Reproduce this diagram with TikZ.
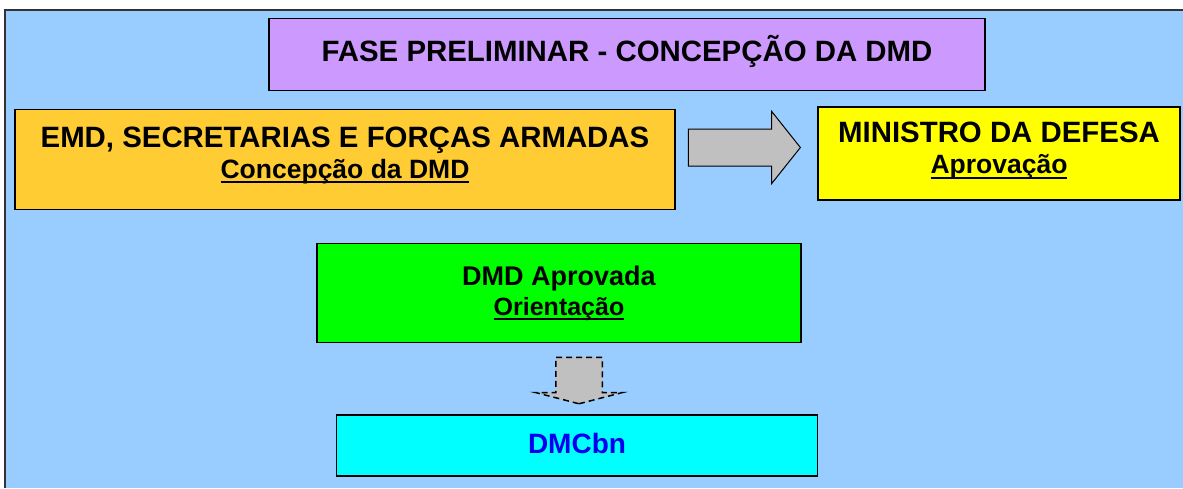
\documentclass[tikz,border=0pt]{standalone}
\usepackage{fontspec}
\setmainfont{Liberation Sans}
\usetikzlibrary{shapes.arrows}
\definecolor{fundo}{HTML}{99CCFF}
\definecolor{lilas}{HTML}{CC99FF}
\definecolor{laranja}{HTML}{FFCC33}
\definecolor{amarelo}{HTML}{FFFF00}
\definecolor{verde}{HTML}{00FF00}
\definecolor{ciano}{HTML}{00FFFF}
\definecolor{cinza}{HTML}{C0C0C0}
\definecolor{azul}{HTML}{0000F0}
\newsavebox\sublbox
\newcommand\sublin[1]{\sbox\sublbox{#1}\rlap{\rule[-5pt]{\wd\sublbox}{2pt}}\usebox\sublbox}
\newcommand\fundobaixo[1]{\rule[-#1]{0pt}{#1}}
\begin{document}
\begin{tikzpicture}[x=1pt,y=-1pt]
	\tikzstyle{caixa}=[draw=black, line width=1.5pt, inner sep=0pt, align=center, font=\bfseries\fontsize{29.4}{31}\selectfont]
	\tikzstyle{seta}=[single arrow, draw=black, fill=cinza, inner xsep=0pt]
	\useasboundingbox (0,0) rectangle (1183,488);
	\fill [fundo] (5,10) rectangle (1183,488);
	\draw [black!80, line width=1.5pt] (5,488) -- (5,10) -- (1183,10);
	\node [caixa, fill=lilas, minimum width=716pt, minimum height=72pt] (fase) at (627,54.5) {FASE PRELIMINAR - CONCEPÇÃO DA DMD\fundobaixo{12pt}};
	\node [caixa, fill=laranja, minimum width=660pt, minimum height=100pt] (emd) at (345,159.5) {EMD, SECRETARIAS E FORÇAS ARMADAS\\{\fontsize{26.5}{31}\selectfont\sublin{Concepção da DMD}\fundobaixo{14pt}}};
	\node [caixa, fill=amarelo, minimum width=362pt, minimum height=93pt] (ministro) at (999,153.5) {MINISTRO DA DEFESA\\{\fontsize{26.5}{31}\selectfont\sublin{Aprovação}\fundobaixo{11pt}}};
	\node [caixa, fill=verde, minimum width=484pt, minimum height=99pt, font=\bfseries\fontsize{27}{30}\selectfont] (aprovada) at (559,293) {DMD Aprovada\\{\fontsize{25}{30}\selectfont\sublin{Orientação}}};
	\node [caixa, fill=ciano, minimum width=481pt, minimum height=61pt, text=azul, font=\bfseries\fontsize{28}{30}\selectfont] (dmcbn) at (577,445.5) {DMCbn\fundobaixo{5pt}};
	\node [seta, line width=1pt, inner ysep=18pt, minimum height=112pt, single arrow head extend=17.5pt, single arrow tip angle=103] (aprova) at (737,147.5) {};
	\node [seta, line width=1.5pt, dash pattern=on 6pt off 4pt, rotate=-90, inner ysep=22.5pt, minimum height=46.5pt, single arrow head extend=20pt, single arrow tip angle=151] (orienta) at (579,377.5) {};
\end{tikzpicture}
\end{document}
